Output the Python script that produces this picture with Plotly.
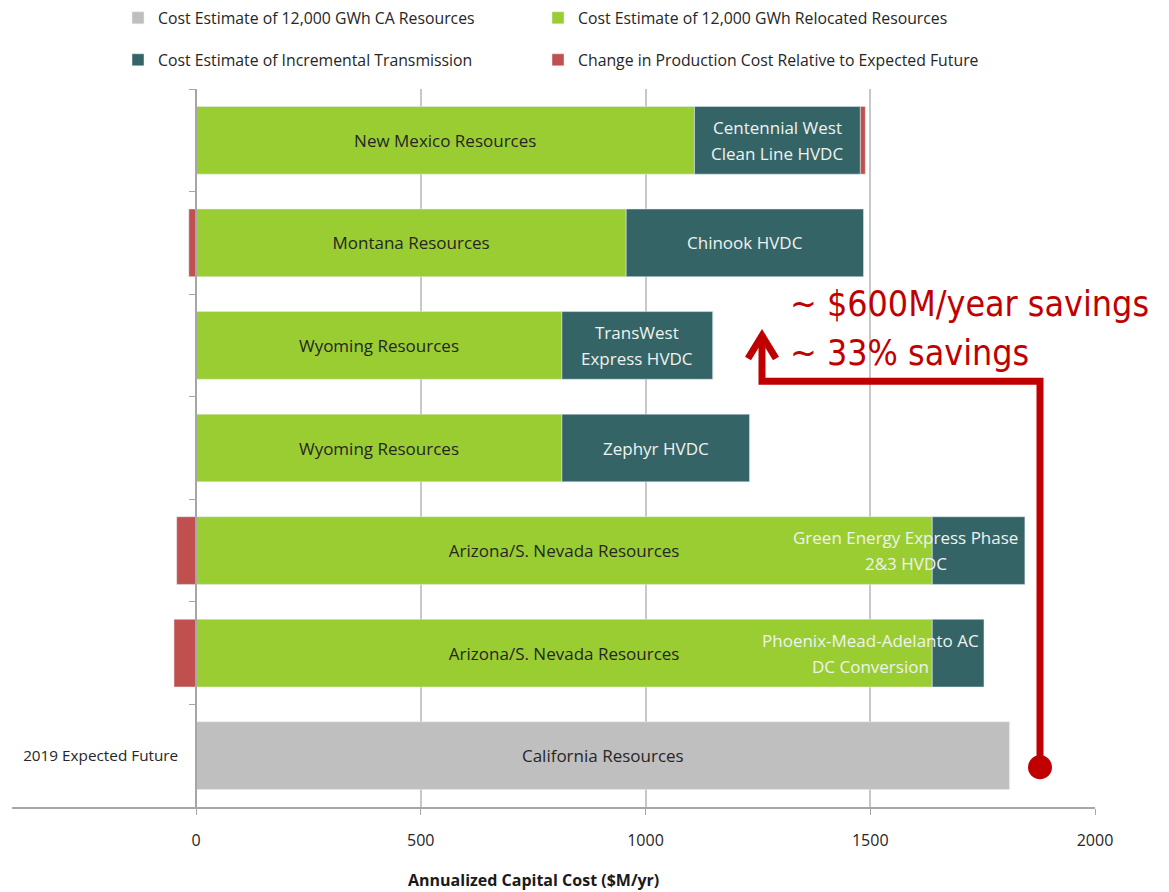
import plotly.graph_objects as go

# ---------------- data (bottom row first) ----------------
row_ids = ["Expected Future", "AZ PMA", "AZ GEE", "WY Zephyr", "WY TransWest", "MT Chinook", "NM Centennial"]
axis_labels = ["2019 Expected Future", "", "", "", "", "", ""]
resource_labels = ["California Resources", "Arizona/S. Nevada Resources", "Arizona/S. Nevada Resources",
                   "Wyoming Resources", "Wyoming Resources", "Montana Resources", "New Mexico Resources"]
transmission_labels = ["", "Phoenix-Mead-Adelanto AC<br>DC Conversion", "Green Energy Express Phase<br>2&3 HVDC",
                       "Zephyr HVDC", "TransWest<br>Express HVDC", "Chinook HVDC", "Centennial West<br>Clean Line HVDC"]
ca_cost = [1810, 0, 0, 0, 0, 0, 0]
relocated_cost = [0, 1638, 1638, 814, 814, 957, 1109]
transmission_cost = [0, 115, 206, 418, 336, 528, 369]
production_change = [0, -49, -43, 0, 0, -16, 11]
# horizontal shift of transmission label from the segment centre (label layout, $M/yr units)
label_shift = [0, -196, -162, 0, 0, 0, 0]

series_names = ["Cost Estimate of 12,000 GWh CA Resources",
                "Cost Estimate of 12,000 GWh Relocated Resources",
                "Cost Estimate of Incremental Transmission",
                "Change in Production Cost Relative to Expected Future"]
colors = ["#BFBFBF", "#9ACD32", "#356466", "#C0504D"]
x_ticks = [0, 500, 1000, 1500, 2000]

y = list(range(len(row_ids)))

# ---------------- layout geometry ----------------
W, H = 1169, 892
L, R, T, B = 12, 74, 85, 85
X0, X1 = -409.4, 2000
plot_w = W - L - R
plot_h = H - T - B
ppu = plot_w / (X1 - X0)           # pixels per $M
ppc = plot_h / len(row_ids)         # pixels per category


def dx(px):   # pixel x -> data x
    return X0 + (px - L) / ppu


def dy(py):   # pixel y -> data y
    return -0.5 + (H - B - py) / ppc


fig = go.Figure()
font_main = "Open Sans, Noto Sans, sans-serif"
bar_font = dict(family=font_main, size=17, color="#262626")

fig.add_trace(go.Bar(
    y=y, x=ca_cost, orientation="h", name=series_names[0], marker_color=colors[0],
    text=[resource_labels[0] if v else "" for v in ca_cost], textposition="inside",
    insidetextanchor="middle", textangle=0, insidetextfont=bar_font,
    legend="legend", showlegend=True))
fig.add_trace(go.Bar(
    y=y, x=relocated_cost, orientation="h", name=series_names[1], marker_color=colors[1],
    text=[resource_labels[i] if v else "" for i, v in enumerate(relocated_cost)], textposition="inside",
    insidetextanchor="middle", textangle=0, insidetextfont=bar_font,
    legend="legend2", showlegend=True))
fig.add_trace(go.Bar(
    y=y, x=transmission_cost, orientation="h", name=series_names[2], marker_color=colors[2],
    legend="legend3", showlegend=True))
fig.add_trace(go.Bar(
    y=y, x=production_change, orientation="h", name=series_names[3], marker_color=colors[3],
    legend="legend4", showlegend=True))

line_gap = 26  # px between label lines
for i in range(len(row_ids)):
    if transmission_labels[i]:
        lines = transmission_labels[i].split("<br>")
        n = len(lines)
        for k, ln in enumerate(lines):
            fig.add_annotation(
                x=relocated_cost[i] + transmission_cost[i] / 2 + label_shift[i], y=y[i],
                xref="x", yref="y", text=ln, showarrow=False,
                yshift=((n - 1) / 2 - k) * line_gap,
                font=dict(family=font_main, size=17, color="#EEF3EF"), align="center")

# axis title
fig.add_annotation(x=dx(533), y=(H - B - 880) / plot_h, xref="x", yref="paper", yanchor="middle",
                   text="<b>Annualized Capital Cost ($M/yr)</b>", showarrow=False,
                   font=dict(family=font_main, size=16, color="#1a1a1a"))

# savings annotations
red = "#C00000"
red_font = dict(family="Liberation Sans Narrow, Arial Narrow, DejaVu Sans Condensed, sans-serif", size=35.5, color=red)
fig.add_annotation(x=dx(788), y=dy(301), xref="x", yref="y", xanchor="left", yanchor="middle",
                   text="~ $600M/year savings", showarrow=False, font=red_font)
fig.add_annotation(x=dx(788), y=dy(350), xref="x", yref="y", xanchor="left", yanchor="middle",
                   text="~ 33% savings", showarrow=False, font=red_font)

# arrow path
lw = 7
path = f"M {dx(1040)},{dy(767)} L {dx(1040)},{dy(379)} L {dx(762)},{dy(379)} L {dx(762)},{dy(332)}"
fig.add_shape(type="path", path=path, xref="x", yref="y", line=dict(color=red, width=lw), layer="above")
head = f"M {dx(748)},{dy(356)} L {dx(762)},{dy(333)} L {dx(776)},{dy(356)}"
fig.add_shape(type="path", path=head, xref="x", yref="y", line=dict(color=red, width=lw), layer="above")
r = 12
fig.add_shape(type="circle", xref="x", yref="y", x0=dx(1040 - r), x1=dx(1040 + r), y0=dy(767 + r), y1=dy(767 - r),
              fillcolor=red, line=dict(color=red, width=0), layer="above")

legend_common = dict(orientation="h", xref="container", yref="container",
                     xanchor="left", yanchor="middle", visible=True,
                     font=dict(size=15.8, color="#262626"), bgcolor="rgba(0,0,0,0)")
col_x = [118 / W, 538 / W]
row_y = [1 - 18 / H, 1 - 60 / H]

fig.update_layout(
    width=W, height=H,
    margin=dict(l=L, r=R, t=T, b=B),
    barmode="relative", bargap=0.34,
    showlegend=True,
    plot_bgcolor="white", paper_bgcolor="white",
    font=dict(family=font_main, size=15, color="#262626"),
    legend=dict(legend_common, x=col_x[0], y=row_y[0]),
    legend2=dict(legend_common, x=col_x[1], y=row_y[0]),
    legend3=dict(legend_common, x=col_x[0], y=row_y[1]),
    legend4=dict(legend_common, x=col_x[1], y=row_y[1]),
    xaxis=dict(range=[X0, X1], tickvals=x_ticks, showgrid=True, gridcolor="#C8C8C8", gridwidth=1.5,
               zeroline=False, showline=True, linecolor="#A6A6A6", linewidth=1.5,
               ticks="outside", ticklen=6, tickcolor="#A6A6A6", ticklabelstandoff=12,
               tickfont=dict(size=16, color="#262626")),
    yaxis=dict(range=[-0.5, len(row_ids) - 0.5], tickvals=y, ticktext=axis_labels, ticks="",
               anchor="free", position=(0 - X0) / (X1 - X0), showline=True, linecolor="#A6A6A6", linewidth=1.5,
               showgrid=False, zeroline=False, ticklabelstandoff=14,
               tickfont=dict(size=15.3, color="#262626"),
               minor=dict(tickvals=[v + 0.5 for v in y], ticks="outside", ticklen=6,
                          tickcolor="#A6A6A6", showgrid=False)),
)

fig.write_html("out.html")
